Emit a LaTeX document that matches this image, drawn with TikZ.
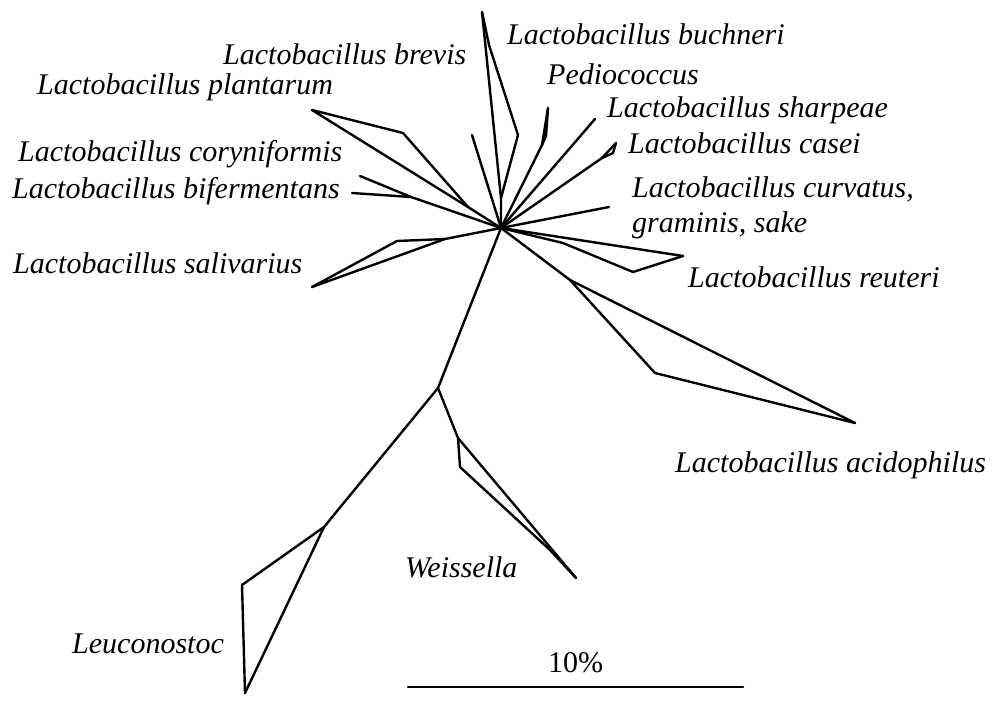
\documentclass[tikz,border=0pt]{standalone}
\usepackage{fontspec}
\setmainfont{Liberation Serif}
\tikzset{branch/.style={line width=2.4pt,line join=round,line cap=round}
        ,taxon/.style={anchor=base west,inner sep=0pt,font=\itshape\fontsize{30}{36}\selectfont}
        ,scalelabel/.style={anchor=base west,inner sep=0pt,font=\fontsize{30}{36}\selectfont}}

\begin{document}
\begin{tikzpicture}[x=1pt,y=-1pt]
\useasboundingbox (0,0) rectangle (995,703);
\coordinate (hub) at (501,228);
\coordinate (buchneri) at (482,12);
\coordinate (bu1) at (489,45);
\coordinate (bu2) at (518,135);
\coordinate (bu3) at (501,198);
\coordinate (brevis) at (472,135);
\coordinate (pedio) at (548,108);
\coordinate (pe1) at (542,145);
\coordinate (pe2) at (546,136);
\coordinate (sharpeae) at (595,119);
\coordinate (casei) at (616,143);
\coordinate (ca1) at (613,153);
\coordinate (ca2) at (602,158);
\coordinate (curvatus) at (609,207);
\coordinate (plantarum) at (312,110);
\coordinate (pl1) at (403,133);
\coordinate (pl2) at (468,207);
\coordinate (cory) at (360,176);
\coordinate (bifer) at (352,193);
\coordinate (cy1) at (411,197);
\coordinate (saliv) at (312,287);
\coordinate (sa1) at (397,241);
\coordinate (sa2) at (445,239);
\coordinate (reuteri) at (683,256);
\coordinate (re1) at (563,243);
\coordinate (re2) at (633,272);
\coordinate (acid) at (855,423);
\coordinate (ac1) at (570,280);
\coordinate (ac2) at (655,373);
\coordinate (trunk) at (438,388);
\coordinate (weiss) at (576,578);
\coordinate (we1) at (458,438);
\coordinate (we2) at (460,467);
\coordinate (we3) at (550,550);
\coordinate (leuco) at (245,693);
\coordinate (le1) at (324,527);
\coordinate (le2) at (242,585);
\coordinate (sb1) at (408,687);
\coordinate (sb2) at (743,687);

\draw [branch] (buchneri) -- (bu3) -- (hub);
\draw [branch] (buchneri) -- (bu1) -- (bu2) -- (bu3);
\draw [branch] (brevis) -- (hub);
\draw [branch] (pedio) -- (pe1) -- (hub);
\draw [branch] (pedio) -- (pe2) -- (pe1);
\draw [branch] (sharpeae) -- (hub);
\draw [branch] (casei) -- (ca2) -- (hub);
\draw [branch] (casei) -- (ca1) -- (ca2);
\draw [branch] (curvatus) -- (hub);
\draw [branch] (plantarum) -- (pl2) -- (hub);
\draw [branch] (plantarum) -- (pl1) -- (pl2);
\draw [branch] (cory) -- (cy1) -- (hub);
\draw [branch] (bifer) -- (cy1);
\draw [branch] (saliv) -- (sa2) -- (hub);
\draw [branch] (saliv) -- (sa1) -- (sa2);
\draw [branch] (hub) -- (reuteri);
\draw [branch] (hub) -- (re1) -- (re2) -- (reuteri);
\draw [branch] (hub) -- (ac1) -- (acid);
\draw [branch] (ac1) -- (ac2) -- (acid);
\draw [branch] (hub) -- (trunk);
\draw [branch] (trunk) -- (we1) -- (weiss);
\draw [branch] (we1) -- (we2) -- (we3) -- (weiss);
\draw [branch] (trunk) -- (le1) -- (leuco);
\draw [branch] (le1) -- (le2) -- (leuco);
\draw [branch] (sb1) -- (sb2);

\node [taxon] (lbuchneri) at (507,45) {Lactobacillus buchneri};
\node [taxon] (lbrevis) at (223,65) {Lactobacillus brevis};
\node [taxon] (lpedio) at (547,85) {Pediococcus};
\node [taxon] (lplantarum) at (37,95) {Lactobacillus plantarum};
\node [taxon] (lsharpeae) at (607,118) {Lactobacillus sharpeae};
\node [taxon] (lcasei) at (628,154) {Lactobacillus casei};
\node [taxon] (lcory) at (18,162) {Lactobacillus coryniformis};
\node [taxon] (lbifer) at (12,199) {Lactobacillus bifermentans};
\node [taxon] (lcurvatus) at (632,198) {Lactobacillus curvatus,};
\node [taxon] (lgraminis) at (632,233) {graminis, sake};
\node [taxon] (lsaliv) at (13,273) {Lactobacillus salivarius};
\node [taxon] (lreuteri) at (688,287) {Lactobacillus reuteri};
\node [taxon] (lacid) at (675,472) {Lactobacillus acidophilus};
\node [taxon] (lweiss) at (405,577) {Weissella};
\node [taxon] (lleuco) at (72,653) {Leuconostoc};
\node [scalelabel] (lscale) at (548,672) {10\%};
\end{tikzpicture}
\end{document}
